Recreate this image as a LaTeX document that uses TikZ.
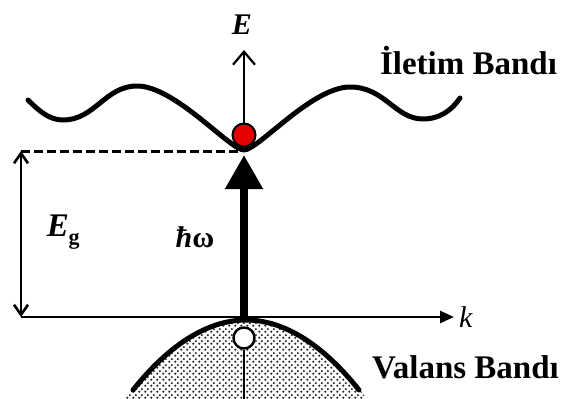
\documentclass[tikz,border=0pt]{standalone}
\usepackage{fontspec}
\setmainfont{Liberation Serif}
\usetikzlibrary{arrows.meta,patterns}
\pgfdeclarepatternformonly{bigdots}{\pgfqpoint{0pt}{0pt}}{\pgfqpoint{6pt}{6pt}}{\pgfqpoint{6pt}{6pt}}{%
  \pgfpathcircle{\pgfqpoint{1.5pt}{1.5pt}}{1.35pt}%
  \pgfpathcircle{\pgfqpoint{4.5pt}{4.5pt}}{1.35pt}%
  \pgfusepath{fill}}
\begin{document}
\begin{tikzpicture}[x=1pt,y=-1pt,
  band/.style={line width=5pt,line cap=round,line join=round},
  thinaxis/.style={line width=2.2pt},
  lbl/.style={inner sep=0pt,outer sep=0pt},
  bigfont/.style={font=\fontsize{33}{33}\selectfont\bfseries}]
\useasboundingbox (0,0) rectangle (568,399);

% coordinates
\coordinate (orig) at (244,317);
\coordinate (kend) at (454,317);
\coordinate (egtop) at (21,151);
\coordinate (egbot) at (21,317);
\coordinate (dashend) at (240,151);
\coordinate (etop) at (244,50);
\coordinate (tip) at (244,155);
\coordinate (vbot) at (244,399);

% valence band fill
\fill[pattern=bigdots,pattern color=black!85] (125,399) parabola bend (246,320) (367,399) -- cycle;
\draw[band] (133,390) parabola bend (246,320) (359,390);

% conduction band
\draw[band] (28,100) .. controls (40,112) and (50,120) .. (63,120)
  .. controls (95,120) and (105,86) .. (137,86)
  .. controls (175,86) and (230,150) .. (244,150)
  .. controls (258,150) and (312,87) .. (350,87)
  .. controls (385,87) and (395,119) .. (423,119)
  .. controls (440,119) and (452,110) .. (460,98);

% dashed level
\draw[line width=3pt,dash pattern=on 9pt off 4pt] (egtop) -- (dashend);

% Eg arrow
\draw[line width=2.6pt,{Straight Barb[length=10pt,width=14pt]}-{Straight Barb[length=10pt,width=14pt]}] (egtop) -- (egbot);

% k axis
\draw[line width=2.6pt,-{Triangle[length=14pt,width=12pt]}] (egbot) -- (kend);

% photon arrow
\draw[line width=8pt,-{Triangle[length=34pt,width=36pt]}] (orig) -- (tip);

% electron and hole
\node[circle,draw=black,line width=2pt,fill=red!90!black,minimum width=23pt,inner sep=0pt] (el) at (244,135) {};
\node[circle,draw=black,line width=2.4pt,fill=white,minimum size=21pt,inner sep=0pt] (hole) at (244,338) {};

% E axis
\draw[thinaxis,-{Straight Barb[length=13pt,width=22pt]}] (el.north) -- (etop);
% line through valence band
\draw[line width=1.6pt] (hole.south) -- (vbot);

% labels
\node[lbl,font=\fontsize{30}{30}\selectfont\bfseries\itshape] (Elbl) at (242,25) {E};
\node[lbl,font=\fontsize{30}{30}\selectfont\itshape,anchor=west] (klbl) at (459,317) {k};
\node[lbl,anchor=base west,bigfont] (ilet) at (380,74) {İletim Bandı};
\node[lbl,anchor=base west,bigfont] (val) at (372,378) {Valans Bandı};
\node[lbl,font=\fontsize{33}{33}\selectfont\bfseries\itshape] (Eg) at (58,226) {E};
\node[lbl,font=\fontsize{22}{22}\selectfont\bfseries] (g) at (74,241) {g};
\node[lbl,font=\fontsize{30}{30}\selectfont\bfseries] (hw) at (195,237) {\textit{ħ}ω};
\end{tikzpicture}
\end{document}
